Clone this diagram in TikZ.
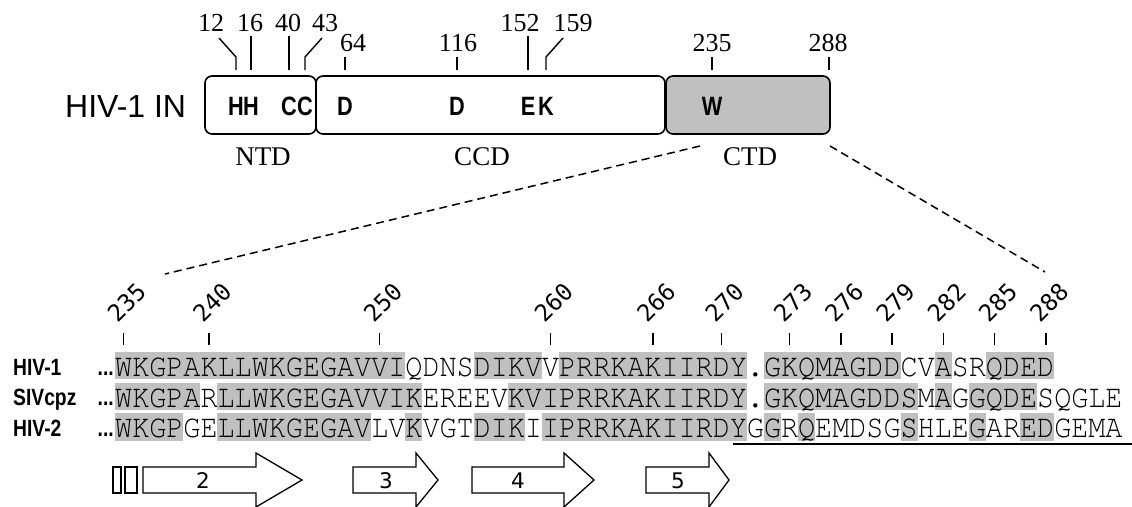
\documentclass[tikz,border=0pt]{standalone}
\usepackage{fontspec}
\setmainfont{Liberation Serif}
\newfontfamily\arialf{Liberation Sans}
\newfontfamily\narrowf{Liberation Sans}[FakeStretch=0.82]
\newfontfamily\dvsmono{DejaVu Sans Mono}
\newfontfamily\dvsans{DejaVu Sans}
\newfontfamily\courf{TeX Gyre Cursor}[FakeStretch=0.881]
\definecolor{shadegray}{RGB}{192,192,192}
\begin{document}
\begin{tikzpicture}[x=1pt,y=-1pt,
  dom/.style={draw=black, line width=1.6pt, rounded corners=7pt, minimum height=58pt, inner sep=0pt},
  res/.style={font=\narrowf\bfseries\fontsize{26.5}{27}\selectfont, inner sep=0pt, anchor=base},
  posn/.style={font=\fontsize{26}{26}\selectfont, inner sep=0pt, anchor=base},
  tk/.style={line width=1.4pt},
  dlab/.style={font=\fontsize{27}{27}\selectfont, inner sep=0pt, anchor=base},
  seq/.style={font=\courf\fontsize{32.3}{33}\selectfont, inner sep=0pt, anchor=base west},
  rowlab/.style={font=\narrowf\bfseries\fontsize{23.5}{24}\selectfont, inner sep=0pt, anchor=base west},
  dots/.style={font=\narrowf\bfseries\fontsize{23.5}{24}\selectfont, inner sep=0pt, anchor=base east},
  rnum/.style={font=\dvsmono\fontsize{23.5}{23.5}\selectfont, inner sep=0pt, anchor=base west, rotate=45},
  strand/.style={draw=black, fill=white, line width=1.3pt},
  snum/.style={font=\dvsans\fontsize{21.5}{21.5}\selectfont, inner sep=0pt},
  dashline/.style={line width=1.5pt, dash pattern=on 8pt off 5pt}
]
\useasboundingbox (0,0) rectangle (1132,506);
\def\cw{17.08}

% ---------- domain map ----------
\node[font=\arialf\fontsize{32}{32}\selectfont, inner sep=0pt, anchor=base west] (title) at (65,117) {HIV-1 IN};
\node[dom, minimum width=111pt] (ntd) at (260.5,105) {};
\node[dom, minimum width=349pt] (ccd) at (490.5,105) {};
\node[dom, minimum width=164pt, fill=shadegray] (ctd) at (748,105) {};

\node[res] (rH12) at (236,115) {H};
\node[res] (rH16) at (251,115) {H};
\node[res] (rC40) at (289,115) {C};
\node[res] (rC43) at (305,115) {C};
\node[res] (rD64) at (345,115) {D};
\node[res] (rD116) at (457,115) {D};
\node[res] (rE152) at (528,115) {E};
\node[res] (rK159) at (546,115) {K};
\node[res] (rW235) at (712,115) {W};

\draw[tk] (236,70) -- (236,57) -- (219,38);
\draw[tk] (251,70) -- (251,36);
\draw[tk] (289,70) -- (289,36);
\draw[tk] (305,70) -- (305,57) -- (322,38);
\draw[tk] (345,70) -- (345,57);
\draw[tk] (457,70) -- (457,57);
\draw[tk] (528,70) -- (528,36);
\draw[tk] (546,70) -- (546,57) -- (563,38);
\draw[tk] (712,70) -- (712,57);
\draw[tk] (829,70) -- (829,57);

\node[posn] (n12) at (211,31) {12};
\node[posn] (n16) at (250,31) {16};
\node[posn] (n40) at (288,31) {40};
\node[posn] (n43) at (325,31) {43};
\node[posn] (n64) at (353,51) {64};
\node[posn] (n116) at (458,51) {116};
\node[posn] (n152) at (520,31) {152};
\node[posn] (n159) at (573,31) {159};
\node[posn] (n235) at (712,51) {235};
\node[posn] (n288) at (828,51) {288};

\node[dlab] (lntd) at (263,165) {NTD};
\node[dlab] (lccd) at (482,165) {CCD};
\node[dlab] (lctd) at (750,165) {CTD};

\coordinate (dl1) at (700,146);
\coordinate (dl2) at (165,274);
\coordinate (dr1) at (830,146);
\coordinate (dr2) at (1045,272);
\draw[dashline] (dl1) -- (dl2);
\draw[dashline] (dr1) -- (dr2);

% ---------- alignment shading ----------
\foreach \a/\b in {0/16,21/24,26/36,38/45,48/48,51/54}
  \fill[shadegray] ({115+\a*\cw},351.7) rectangle ({115+(\b+1)*\cw},379);
\foreach \a/\b in {0/4,6/17,23/36,38/46,48/48,50/53}
  \fill[shadegray] ({115+\a*\cw},382.5) rectangle ({115+(\b+1)*\cw},409.5);
\foreach \a/\b in {0/3,6/14,17/17,21/23,25/36,38/38,40/40,46/46,50/50,53/54}
  \fill[shadegray] ({115+\a*\cw},413.3) rectangle ({115+(\b+1)*\cw},440.7);

% ---------- sequences ----------
\node[rowlab] (l1) at (13,375) {HIV-1};
\node[rowlab] (l2) at (13,405.5) {SIVcpz};
\node[rowlab] (l3) at (13,436) {HIV-2};
\node[dots] (d1) at (114,375) {...};
\node[dots] (d2) at (114,405.5) {...};
\node[dots] (d3) at (114,436) {...};
\node[seq] (s1) at (115,376.5) {WKGPAKLLWKGEGAVVIQDNSDIKVVPRRKAKIIRDY.GKQMAGDDCVASRQDED};
\node[seq] (s2) at (115,407) {WKGPARLLWKGEGAVVIKEREEVKVIPRRKAKIIRDY.GKQMAGDDSMAGGQDESQGLE};
\node[seq] (s3) at (115,437.5) {WKGPGELLWKGEGAVLVKVGTDIKIIPRRKAKIIRDYGGRQEMDSGSHLEGAREDGEMA};

% ---------- position ticks ----------
\foreach \n/\i in {235/0,240/5,250/15,260/25,266/31,270/35,273/39,276/42,279/45,282/48,285/51,288/54} {
  \draw[tk] ({115+(\i+0.5)*\cw},333) -- ({115+(\i+0.5)*\cw},345);
  \node[rnum] (p\n) at ({115+(\i+0.5)*\cw-6},324) {\n};
}

% underline
\coordinate (u1) at (733,444);
\coordinate (u2) at (1132,444);
\draw[line width=2pt] (u1) -- (u2);

% ---------- strands ----------
\draw[strand] (113,467) rectangle (121,493);
\draw[strand] (125,467) rectangle (137,493);
\draw[strand] (143,467) -- (256,467) -- (256,453) -- (302,480) -- (256,507) -- (256,493) -- (143,493) -- cycle;
\draw[strand] (353,467) -- (416,467) -- (416,453) -- (438,480) -- (416,507) -- (416,493) -- (353,493) -- cycle;
\draw[strand] (472,467) -- (564,467) -- (564,453) -- (594,480) -- (564,507) -- (564,493) -- (472,493) -- cycle;
\draw[strand] (646,467) -- (709,467) -- (709,453) -- (729,480) -- (709,507) -- (709,493) -- (646,493) -- cycle;
\node[snum] (b2) at (203,481) {2};
\node[snum] (b3) at (386,481) {3};
\node[snum] (b4) at (518,481) {4};
\node[snum] (b5) at (678,481) {5};
\end{tikzpicture}
\end{document}
